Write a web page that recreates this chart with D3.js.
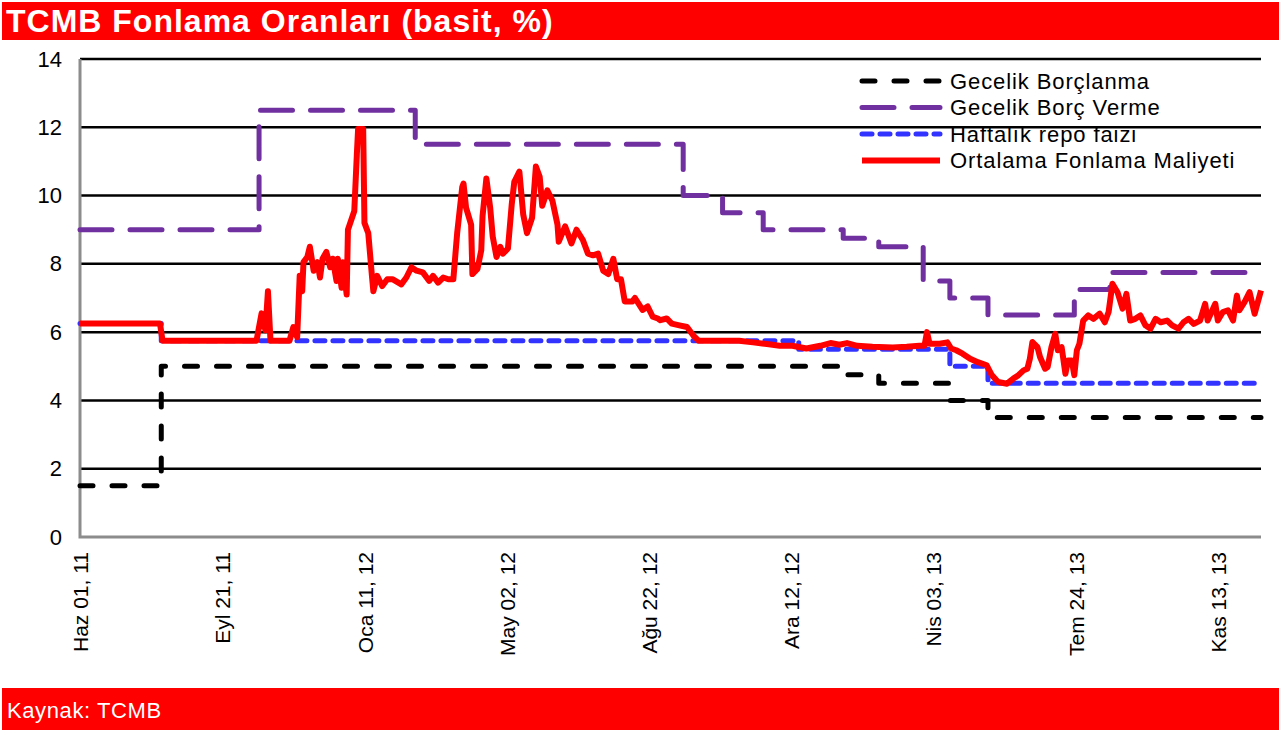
<!DOCTYPE html>
<html>
<head>
<meta charset="utf-8">
<script src="https://cdnjs.cloudflare.com/ajax/libs/d3/7.8.5/d3.min.js"></script>
<style>
  body { margin: 0; background: #fff; }
  text { font-family: "Liberation Sans", Arial, sans-serif; }
</style>
</head>
<body>
<svg width="1279" height="730"></svg>
<script>
// TCMB policy rates, step changes (date, %)
var borrowing = [
  ["2011-06-01", 1.5], ["2011-08-04", 5.0], ["2013-01-22", 4.75], ["2013-02-19", 4.5],
  ["2013-04-16", 4.0], ["2013-05-16", 3.5], ["2013-12-17", 3.5]
];
var lending = [
  ["2011-06-01", 9.0], ["2011-10-20", 12.5], ["2012-02-20", 11.5], ["2012-09-18", 10.0],
  ["2012-10-19", 9.5], ["2012-11-20", 9.0], ["2013-01-22", 8.75], ["2013-02-19", 8.5],
  ["2013-03-26", 7.5], ["2013-04-16", 7.0], ["2013-05-16", 6.5], ["2013-07-23", 7.25],
  ["2013-08-20", 7.75], ["2013-12-17", 7.75]
];
var repo = [
  ["2011-06-01", 6.25], ["2011-08-04", 5.75], ["2012-12-18", 5.5], ["2013-04-16", 5.0],
  ["2013-05-16", 4.5], ["2013-12-17", 4.5]
];
// average funding cost
var avgCost = [
  ["2011-06-01", 6.25], ["2011-08-03", 6.25], ["2011-08-05", 5.75], ["2011-10-18", 5.75],
  ["2011-10-22", 6.55], ["2011-10-25", 6.05], ["2011-10-27", 7.2], ["2011-10-29", 5.75],
  ["2011-11-13", 5.75], ["2011-11-16", 6.15], ["2011-11-19", 5.85], ["2011-11-21", 7.65],
  ["2011-11-23", 7.2], ["2011-11-24", 8.05], ["2011-11-27", 8.2], ["2011-11-29", 8.5],
  ["2011-12-02", 7.8], ["2011-12-05", 8.05], ["2011-12-07", 7.6], ["2011-12-09", 8.15],
  ["2011-12-12", 8.35], ["2011-12-15", 7.9], ["2011-12-17", 8.15], ["2011-12-20", 7.5],
  ["2011-12-21", 8.15], ["2011-12-24", 7.3], ["2011-12-25", 8.05], ["2011-12-28", 7.1],
  ["2011-12-29", 9.0], ["2012-01-03", 9.55], ["2012-01-05", 11.2], ["2012-01-06", 11.95],
  ["2012-01-10", 11.95], ["2012-01-11", 9.2], ["2012-01-14", 8.9], ["2012-01-17", 7.6],
  ["2012-01-18", 7.2], ["2012-01-21", 7.65], ["2012-01-25", 7.35], ["2012-01-29", 7.55],
  ["2012-02-02", 7.55], ["2012-02-09", 7.4], ["2012-02-13", 7.6], ["2012-02-17", 7.9],
  ["2012-02-21", 7.8], ["2012-02-26", 7.75], ["2012-03-02", 7.5], ["2012-03-05", 7.65],
  ["2012-03-09", 7.45], ["2012-03-13", 7.6], ["2012-03-17", 7.55], ["2012-03-21", 7.55],
  ["2012-03-24", 8.9], ["2012-03-28", 10.25], ["2012-03-29", 10.35], ["2012-03-31", 9.65],
  ["2012-04-04", 9.15], ["2012-04-05", 7.7], ["2012-04-09", 7.85], ["2012-04-12", 8.4],
  ["2012-04-13", 9.4], ["2012-04-16", 10.5], ["2012-04-19", 9.65], ["2012-04-21", 8.8],
  ["2012-04-24", 8.2], ["2012-04-27", 8.5], ["2012-04-29", 8.3], ["2012-05-03", 8.45],
  ["2012-05-06", 9.75], ["2012-05-08", 10.4], ["2012-05-12", 10.7], ["2012-05-15", 9.45],
  ["2012-05-18", 8.9], ["2012-05-22", 9.35], ["2012-05-25", 10.85], ["2012-05-28", 10.55],
  ["2012-05-30", 9.7], ["2012-06-03", 10.15], ["2012-06-07", 9.85], ["2012-06-11", 9.15],
  ["2012-06-12", 8.65], ["2012-06-17", 9.1], ["2012-06-22", 8.6], ["2012-06-26", 9.0],
  ["2012-07-01", 8.7], ["2012-07-05", 8.3], ["2012-07-09", 8.25], ["2012-07-13", 8.3],
  ["2012-07-17", 7.8], ["2012-07-21", 7.7], ["2012-07-25", 8.15], ["2012-07-28", 7.55],
  ["2012-07-31", 7.55], ["2012-08-03", 6.9], ["2012-08-09", 6.9], ["2012-08-11", 7.0],
  ["2012-08-17", 6.65], ["2012-08-21", 6.75], ["2012-08-25", 6.45], ["2012-08-29", 6.4],
  ["2012-08-31", 6.35], ["2012-09-05", 6.4], ["2012-09-09", 6.25], ["2012-09-15", 6.2],
  ["2012-09-21", 6.15], ["2012-09-26", 5.9], ["2012-09-30", 5.75], ["2012-10-14", 5.75],
  ["2012-11-01", 5.75], ["2012-11-12", 5.7], ["2012-11-23", 5.65], ["2012-12-03", 5.6],
  ["2012-12-13", 5.6], ["2012-12-24", 5.52], ["2013-01-04", 5.6], ["2013-01-12", 5.68],
  ["2013-01-19", 5.63], ["2013-01-25", 5.68], ["2013-02-02", 5.6], ["2013-02-14", 5.57],
  ["2013-03-02", 5.55], ["2013-03-13", 5.57], ["2013-03-23", 5.6], ["2013-03-27", 5.6],
  ["2013-03-29", 6.0], ["2013-03-31", 5.66], ["2013-04-08", 5.66], ["2013-04-14", 5.7],
  ["2013-04-17", 5.52], ["2013-04-21", 5.47], ["2013-04-26", 5.37], ["2013-05-02", 5.22],
  ["2013-05-08", 5.12], ["2013-05-15", 5.03], ["2013-05-19", 4.74], ["2013-05-24", 4.54],
  ["2013-05-31", 4.49], ["2013-06-05", 4.64], ["2013-06-09", 4.74], ["2013-06-13", 4.88],
  ["2013-06-16", 4.93], ["2013-06-18", 5.22], ["2013-06-20", 5.71], ["2013-06-24", 5.56],
  ["2013-06-26", 5.27], ["2013-06-30", 4.93], ["2013-07-02", 4.98], ["2013-07-05", 5.56],
  ["2013-07-08", 5.95], ["2013-07-10", 5.47], ["2013-07-13", 5.56], ["2013-07-16", 4.78],
  ["2013-07-18", 5.17], ["2013-07-21", 5.17], ["2013-07-23", 4.74], ["2013-07-25", 5.47],
  ["2013-07-27", 5.66], ["2013-07-30", 6.34], ["2013-08-03", 6.49], ["2013-08-07", 6.39],
  ["2013-08-12", 6.54], ["2013-08-16", 6.29], ["2013-08-19", 6.59], ["2013-08-22", 7.42],
  ["2013-08-26", 7.17], ["2013-08-30", 6.69], ["2013-09-02", 7.12], ["2013-09-05", 6.34],
  ["2013-09-09", 6.39], ["2013-09-13", 6.49], ["2013-09-17", 6.2], ["2013-09-21", 6.1],
  ["2013-09-25", 6.39], ["2013-09-29", 6.29], ["2013-10-04", 6.34], ["2013-10-08", 6.2],
  ["2013-10-13", 6.1], ["2013-10-17", 6.29], ["2013-10-21", 6.39], ["2013-10-25", 6.24],
  ["2013-10-30", 6.34], ["2013-11-03", 6.83], ["2013-11-05", 6.34], ["2013-11-11", 6.83],
  ["2013-11-13", 6.34], ["2013-11-17", 6.59], ["2013-11-21", 6.64], ["2013-11-25", 6.34],
  ["2013-11-28", 7.07], ["2013-11-30", 6.64], ["2013-12-04", 6.88], ["2013-12-08", 7.17],
  ["2013-12-12", 6.54], ["2013-12-17", 7.22]
];

var tickDates = ["2011-06-01", "2011-09-21", "2012-01-11", "2012-05-02", "2012-08-22",
  "2012-12-12", "2013-04-03", "2013-07-24", "2013-11-13"];
var yTicks = [0, 2, 4, 6, 8, 10, 12, 14];
var months = ["Oca", "Şub", "Mar", "Nis", "May", "Haz", "Tem", "Ağu", "Eyl", "Eki", "Kas", "Ara"];
var seriesNames = ["Gecelik Borçlanma", "Gecelik Borç Verme", "Haftalık repo faizi", "Ortalama Fonlama Maliyeti"];

var svg = d3.select("svg"),
  parse = d3.utcParse("%Y-%m-%d");

var x = d3.scaleUtc()
  .domain([parse("2011-06-01"), parse("2013-12-17")])
  .range([80, 1261]);
var y = d3.scaleLinear().domain([0, 14]).range([537, 59]);

// header and footer bands
svg.append("rect").attr("x", 2).attr("y", 2).attr("width", 1277).attr("height", 38).attr("fill", "#ff0000");
svg.append("text").attr("x", 6).attr("y", 32)
  .attr("fill", "#fff").attr("font-size", 32).attr("font-weight", "bold")
  .attr("letter-spacing", 1)
  .text("TCMB Fonlama Oranları (basit, %)");
svg.append("rect").attr("x", 2).attr("y", 688).attr("width", 1277).attr("height", 42).attr("fill", "#ff0000");
svg.append("text").attr("x", 7).attr("y", 718)
  .attr("fill", "#fff").attr("font-size", 22).attr("letter-spacing", 0.6)
  .text("Kaynak: TCMB");

// grid
svg.append("g").selectAll("line")
  .data(yTicks.filter(function(d) { return d > 0; }))
  .enter().append("line")
  .attr("x1", 80).attr("x2", 1261)
  .attr("y1", function(d) { return y(d); }).attr("y2", function(d) { return y(d); })
  .attr("stroke", "#000").attr("stroke-width", 2.5);

svg.append("path")
  .attr("d", "M80," + y(14) + "V" + y(0) + "H1261")
  .attr("fill", "none").attr("stroke", "#8c8c8c").attr("stroke-width", 3);

// axes
var yAxis = svg.append("g")
  .attr("transform", "translate(80,0)")
  .call(d3.axisLeft(y).tickValues(yTicks).tickSize(0).tickPadding(18));
yAxis.select(".domain").remove();
yAxis.selectAll("text").attr("font-size", 22).attr("fill", "#000")
  .style("font-family", "'Liberation Sans', Arial, sans-serif");

var xAxis = svg.append("g")
  .attr("transform", "translate(0," + y(0) + ")")
  .call(d3.axisBottom(x)
    .tickValues(tickDates.map(parse))
    .tickSize(0)
    .tickFormat(function(d) { return months[d.getUTCMonth()] + " " + d3.utcFormat("%d, %y")(d); }));
xAxis.select(".domain").remove();
xAxis.selectAll("text")
  .attr("transform", "rotate(-90)")
  .attr("x", -15).attr("y", 0).attr("dy", "0.36em")
  .style("text-anchor", "end")
  .style("font-family", "'Liberation Sans', Arial, sans-serif")
  .attr("font-size", 21).attr("fill", "#000");

// series
var styles = [
  { data: borrowing, color: "#000000", width: 5, dash: "13,19", step: true },
  { data: lending, color: "#7030a0", width: 5, dash: "32,18", step: true },
  { data: repo, color: "#3333ff", width: 5, dash: "10,8", step: true },
  { data: avgCost, color: "#ff0000", width: 6, dash: null, step: false }
];

styles.forEach(function(s) {
  var line = d3.line()
    .x(function(d) { return x(parse(d[0])); })
    .y(function(d) { return y(d[1]); })
    .curve(s.step ? d3.curveStepAfter : d3.curveLinear);
  svg.append("path")
    .datum(s.data)
    .attr("d", line)
    .attr("fill", "none")
    .attr("stroke", s.color)
    .attr("stroke-width", s.width)
    .attr("stroke-dasharray", s.dash)
    .attr("stroke-linecap", s.dash ? "round" : "butt")
    .attr("stroke-linejoin", "round");
});

// legend
var legend = svg.append("g").attr("transform", "translate(0,81)");
styles.forEach(function(s, i) {
  var row = legend.append("g").attr("transform", "translate(0," + (i * 26.5) + ")");
  row.append("line")
    .attr("x1", 862).attr("x2", 940)
    .attr("stroke", s.color).attr("stroke-width", s.width)
    .attr("stroke-dasharray", s.dash)
    .attr("stroke-linecap", s.dash ? "round" : "butt");
  row.append("text")
    .attr("x", 950).attr("dy", "0.36em")
    .attr("font-size", 22).attr("letter-spacing", 0.9).attr("fill", "#000")
    .text(seriesNames[i]);
});
</script>
</body>
</html>
